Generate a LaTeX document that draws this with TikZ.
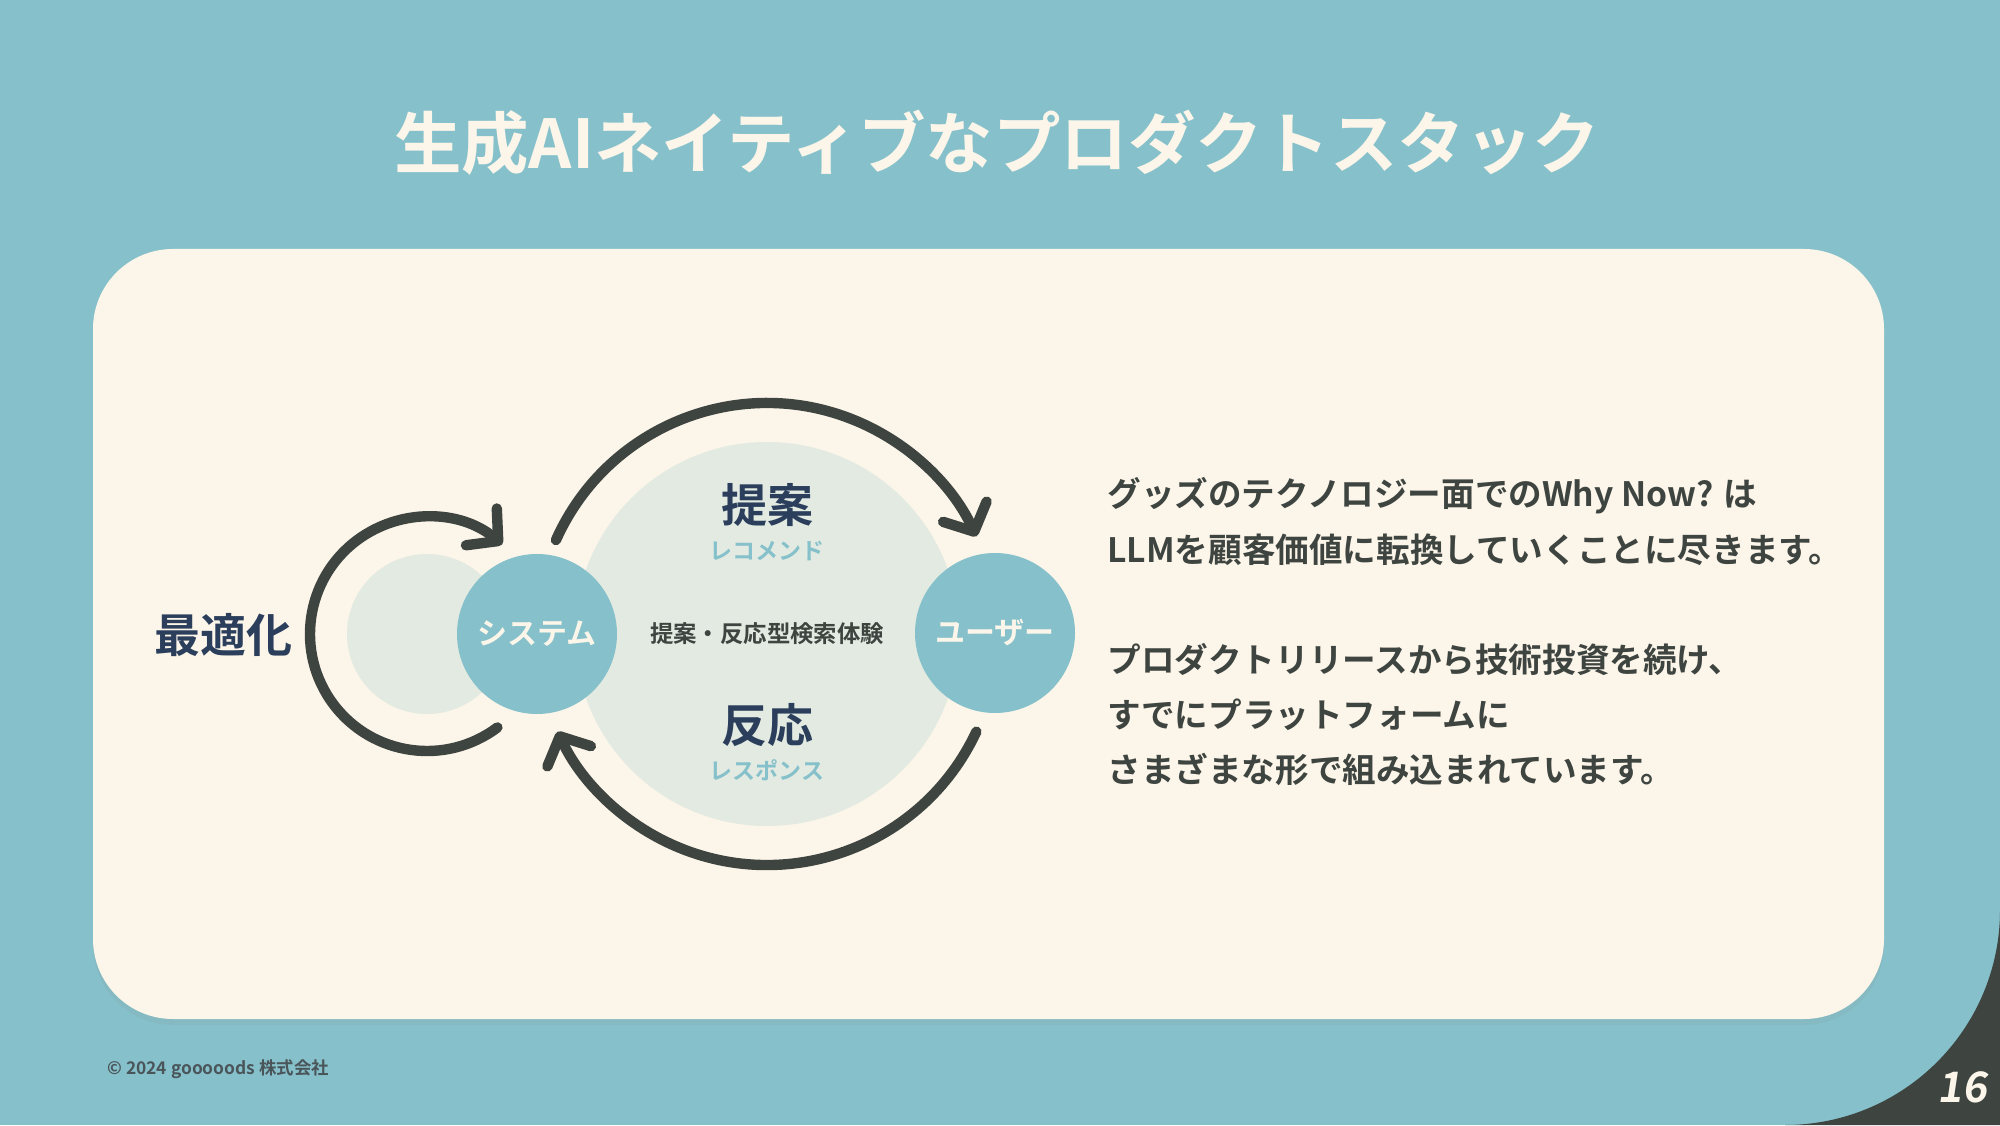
\documentclass[tikz,border=0pt]{standalone}
\usepackage{fontspec}
\setmainfont{Noto Sans CJK JP}[BoldFont={Noto Sans CJK JP Bold}]
\usetikzlibrary{arrows.meta,shadows}
\definecolor{bgteal}{HTML}{86C1CB}
\definecolor{cream}{HTML}{FCF5E9}
\definecolor{darkgr}{HTML}{3E4440}
\definecolor{navy}{HTML}{2B3F5C}
\definecolor{pale}{HTML}{E2EAE1}
\definecolor{foot}{HTML}{4A555A}
\definecolor{subteal}{HTML}{86C1CB}
\begin{document}
\begin{tikzpicture}[x=0.5pt,y=0.5pt,
  cycarrow/.style={draw=darkgr,line width=5.2pt,line cap=round,-{Straight Barb[length=11pt,width=24pt,round]}},
  tealc/.style={circle,fill=bgteal,minimum size=80pt,inner sep=0pt,text=cream,font=\fontsize{15}{18}\selectfont\bfseries},
  palec/.style={circle,fill=pale,inner sep=0pt},
  bigword/.style={text=navy,font=\fontsize{23}{27}\selectfont\bfseries},
  subword/.style={text=subteal,font=\fontsize{11.5}{14}\selectfont\bfseries},
]
\useasboundingbox (0,0) rectangle (2000,1125);
\fill[bgteal] (0,0) rectangle (2000,1125);
% dark corner
\fill[darkgr] (1785,0) arc[start angle=-90,end angle=0,radius=215] -- (2000,0) -- cycle;
\node[text=cream,font=\fontsize{21}{24}\selectfont\bfseries,xslant=0.15] (pnum) at (1965,38) {16};
% title
\node[text=cream,font=\fontsize{33.7}{40}\selectfont\bfseries] (title) at (997,982) {生成AIネイティブなプロダクトスタック};
% card
\node[draw=none,fill=cream,rounded corners=40pt,minimum width=895.5pt,minimum height=385pt,inner sep=0pt,
  drop shadow={opacity=0.10,shadow xshift=0pt,shadow yshift=-3pt}] (card) at (988.5,491) {};
% footer
\node[anchor=west,text=foot,font=\fontsize{8.7}{11}\selectfont\bfseries,inner sep=0pt] (foot) at (107,56) {© 2024 gooooods 株式会社};
% circles
\node[palec,minimum size=192pt] (big) at (767,491) {};
\node[palec,minimum size=80pt] (small) at (427,491) {};
\node[tealc] (sys) at (537,491) {システム};
\node[tealc] (user) at (995,492) {ユーザー};
% labels
\node[bigword] (teian) at (767,620) {提案};
\node[subword] (reco) at (767,574) {レコメンド};
\node[bigword] (hanno) at (767,400) {反応};
\node[subword] (resp) at (767,355) {レスポンス};
\node[text=darkgr,font=\fontsize{11.7}{14}\selectfont\bfseries] (exp) at (767,491) {提案・反応型検索体験};
\node[text=navy,font=\fontsize{23}{27}\selectfont\bfseries] (opt) at (223,490) {最適化};
% arrows
\draw[cycarrow] (big) ++(156:231) arc[start angle=156,end angle=25,radius=231];
\draw[cycarrow] (big) ++(-25:231) arc[start angle=-25,end angle=-155,radius=231];
\draw[cycarrow] (small) ++(-53:117) arc[start angle=-53,end angle=-310,radius=117];
% body text
\node[anchor=west,align=left,text=darkgr,inner sep=0pt,font=\fontsize{16.8}{27.6}\selectfont\bfseries] (body) at (1107,493)
 {グッズのテクノロジー面でのWhy Now? は\\
  LLMを顧客価値に転換していくことに尽きます。\\[27.6pt]
  プロダクトリリースから技術投資を続け、\\
  すでにプラットフォームに\\
  さまざまな形で組み込まれています。};
\end{tikzpicture}
\end{document}
